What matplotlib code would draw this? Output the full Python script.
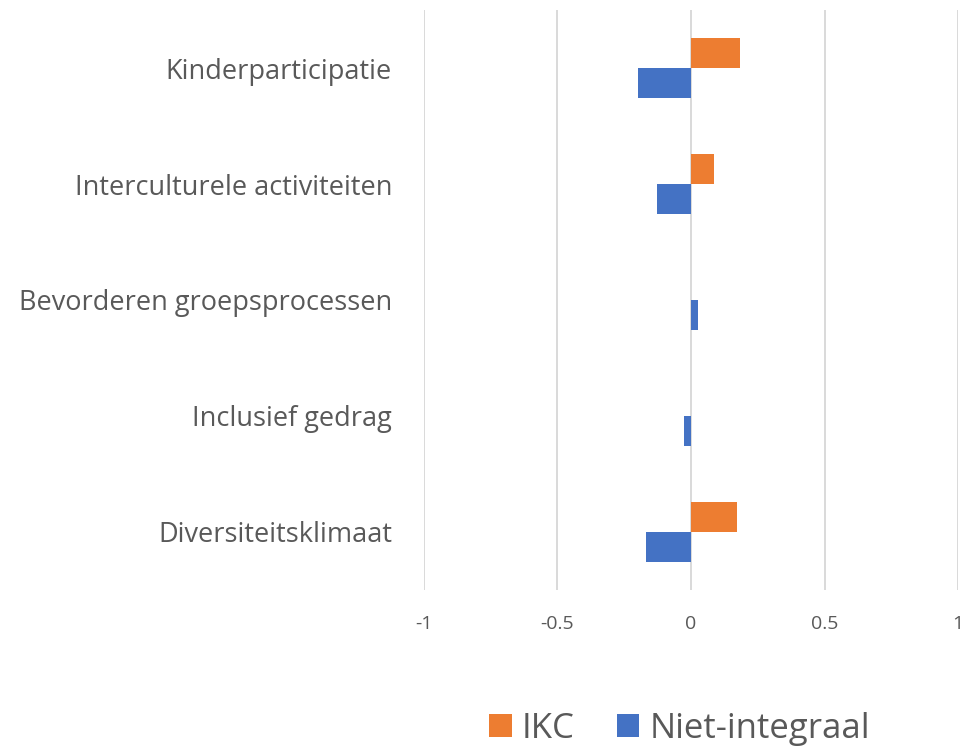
import matplotlib.pyplot as plt
import numpy as np

categories = ["Kinderparticipatie", "Interculturele activiteiten",
              "Bevorderen groepsprocessen", "Inclusief gedrag",
              "Diversiteitsklimaat"]
ikc = [0.185, 0.088, 0.0, 0.0, 0.171]
niet_integraal = [-0.197, -0.129, 0.028, -0.025, -0.167]
xticks = [-1, -0.5, 0, 0.5, 1]
xtick_labels = ["-1", "-0.5", "0", "0.5", "1"]

plt.rcParams['font.family'] = ['Open Sans', 'DejaVu Sans']
text_col = "#595959"

fig = plt.figure(figsize=(9.64, 7.47), dpi=100)
ax = fig.add_axes([0.4398, 0.2102, 0.554, 0.7764])

# top category first
y = np.arange(len(categories))[::-1]
h = 0.26
ax.barh(y + h / 2, ikc, height=h, color="#ED7D31", label="IKC", zorder=3)
ax.barh(y - h / 2, niet_integraal, height=h, color="#4472C4",
        label="Niet-integraal", zorder=3)

ax.set_xlim(-1, 1)
ax.set_ylim(-0.5, len(categories) - 0.5)
ax.set_xticks(xticks)
ax.set_xticklabels(xtick_labels)
ax.set_yticks(y)
ax.set_yticklabels(categories)

ax.grid(axis="x", color="#D9D9D9", linewidth=1.4, zorder=0)
for s in ax.spines.values():
    s.set_visible(False)
ax.tick_params(axis="x", length=0, pad=18, labelsize=14, labelcolor=text_col)
ax.tick_params(axis="y", length=0, pad=23, labelsize=19.5, labelcolor=text_col)

fig.legend(loc="center", bbox_to_anchor=(0.705, 0.024), ncol=2, frameon=False,
           fontsize=25, labelcolor=text_col, handlelength=0.65, handleheight=0.65,
           handletextpad=0.3, columnspacing=1.2)

fig.savefig("out.png", dpi=100)
